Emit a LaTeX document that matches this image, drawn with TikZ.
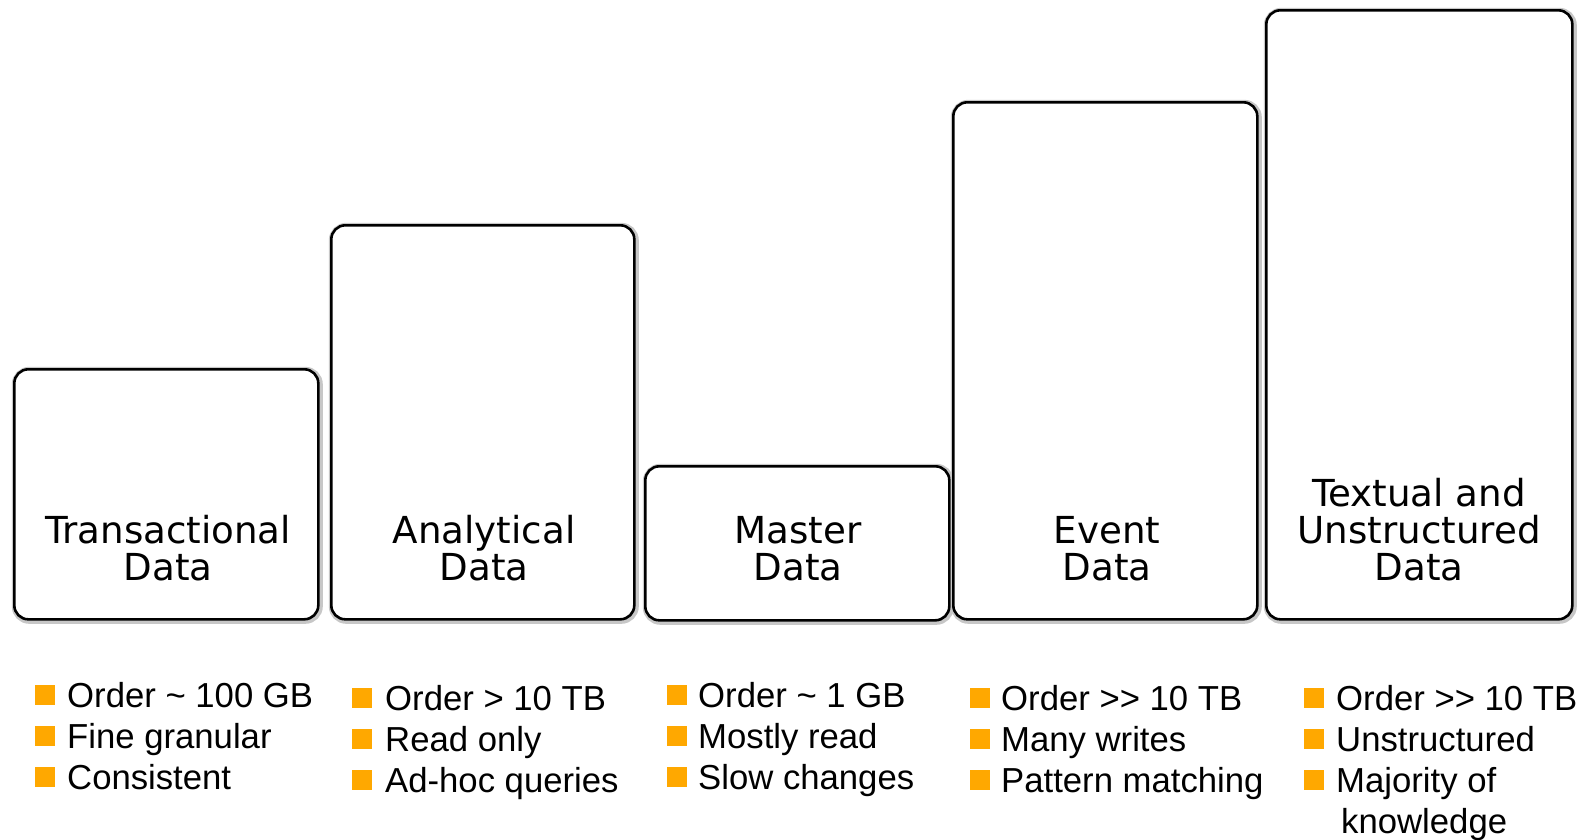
\documentclass[tikz,border=0pt]{standalone}
\usepackage{fontspec}
\setmainfont{Liberation Sans}
\newfontfamily\boxfont{DejaVu Sans}
\definecolor{bulletorange}{HTML}{FFA800}
\begin{document}
\begin{tikzpicture}[x=1pt,y=-1pt,
  databox/.style={draw=black, line width=2.6pt, rounded corners=14pt, fill=white,
    inner sep=0pt, anchor=north west,
    preaction={draw=black!22, line width=7pt, transform canvas={shift={(1pt,-1pt)}}}},
  boxlabel/.style={font=\boxfont\fontsize{37.2}{37}\selectfont, align=center, anchor=base, inner sep=0pt},
  sq/.style={fill=bulletorange, draw=none, minimum size=20pt, inner sep=0pt, anchor=north west},
  item/.style={font=\fontsize{34.7}{41}\selectfont, anchor=base west, inner sep=0pt}]
\useasboundingbox (0,0) rectangle (1586,839);
% boxes
\node[databox, minimum width=304pt, minimum height=250pt] (b1) at (13,368) {};
\node[databox, minimum width=303pt, minimum height=394pt] (b2) at (330,224) {};
\node[databox, minimum width=304pt, minimum height=154pt] (b3) at (644,465) {};
\node[databox, minimum width=304pt, minimum height=517pt] (b4) at (952,101) {};
\node[databox, minimum width=306pt, minimum height=609pt] (b5) at (1265,9) {};
% labels
\node[boxlabel] (l1) at (168,580) {Transactional\\Data};
\node[boxlabel] (l2) at (484,580) {Analytical\\Data};
\node[boxlabel] (l3) at (798,580) {Master\\Data};
\node[boxlabel] (l4) at (1107,580) {Event\\Data};
\node[boxlabel] (l5) at (1419,580) {Textual and\\Unstructured\\Data};
% column 1
\node[sq] (s11) at (35,685) {};
\node[sq] (s12) at (35,726) {};
\node[sq] (s13) at (35,767) {};
\node[item] (t11) at (67,707) {Order \textasciitilde{} 100 GB};
\node[item] (t12) at (67,748) {Fine granular};
\node[item] (t13) at (67,789) {Consistent};
% column 2
\node[sq] (s21) at (352,688) {};
\node[sq] (s22) at (352,729) {};
\node[sq] (s23) at (352,770) {};
\node[item] (t21) at (385,710) {Order > 10 TB};
\node[item] (t22) at (385,751) {Read only};
\node[item] (t23) at (385,792) {Ad-hoc queries};
% column 3
\node[sq] (s31) at (667,685) {};
\node[sq] (s32) at (667,726) {};
\node[sq] (s33) at (667,767) {};
\node[item] (t31) at (698,707) {Order \textasciitilde{} 1 GB};
\node[item] (t32) at (698,748) {Mostly read};
\node[item] (t33) at (698,789) {Slow changes};
% column 4
\node[sq] (s41) at (970,688) {};
\node[sq] (s42) at (970,729) {};
\node[sq] (s43) at (970,770) {};
\node[item] (t41) at (1001,710) {Order >{}> 10 TB};
\node[item] (t42) at (1001,751) {Many writes};
\node[item] (t43) at (1001,792) {Pattern matching};
% column 5
\node[sq] (s51) at (1304,688) {};
\node[sq] (s52) at (1304,729) {};
\node[sq] (s53) at (1304,770) {};
\node[item] (t51) at (1336,710) {Order >{}> 10 TB};
\node[item] (t52) at (1336,751) {Unstructured};
\node[item] (t53) at (1336,792) {Majority of};
\node[item] (t54) at (1341,833) {knowledge};
\end{tikzpicture}
\end{document}
